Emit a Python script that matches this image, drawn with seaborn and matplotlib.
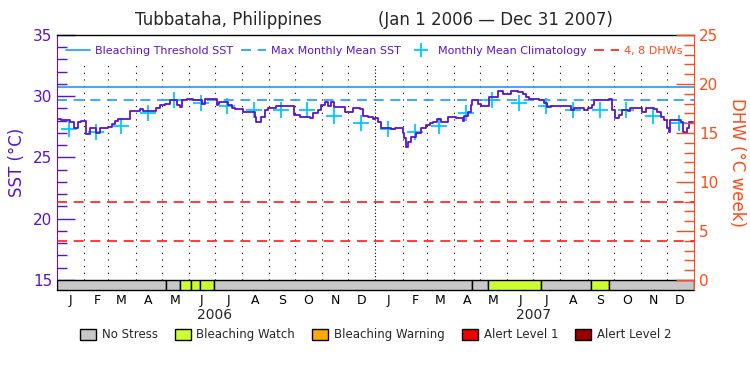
import matplotlib
matplotlib.use("Agg")
import matplotlib.pyplot as plt
import matplotlib.dates as mdates
import matplotlib.transforms as mtransforms
from matplotlib.lines import Line2D
from matplotlib.patches import Patch
import seaborn as sns
import numpy as np
import pandas as pd

# daily SST (step series)
sst_dates = [
    '2006-01-01', '2006-01-06', '2006-01-16', '2006-01-20', '2006-01-25', '2006-01-29',
    '2006-02-03', '2006-02-08', '2006-02-15', '2006-02-19', '2006-03-01', '2006-03-05',
    '2006-03-08', '2006-03-12', '2006-03-26', '2006-04-06', '2006-04-10', '2006-04-25',
    '2006-04-29', '2006-05-05', '2006-05-11', '2006-05-18', '2006-05-22', '2006-05-24',
    '2006-05-30', '2006-06-06', '2006-06-12', '2006-06-16', '2006-06-20', '2006-06-29',
    '2006-07-03', '2006-07-05', '2006-07-06', '2006-07-16', '2006-07-20', '2006-07-24',
    '2006-08-02', '2006-08-16', '2006-08-17', '2006-08-23', '2006-08-27', '2006-08-31',
    '2006-09-09', '2006-09-30', '2006-10-06', '2006-10-18', '2006-10-21', '2006-10-27',
    '2006-10-31', '2006-11-04', '2006-11-08', '2006-11-11', '2006-11-15', '2006-11-27',
    '2006-12-06', '2006-12-14', '2006-12-18', '2006-12-23', '2006-12-29', '2006-12-31',
    '2007-01-04', '2007-01-07', '2007-01-19', '2007-01-23', '2007-02-01', '2007-02-03',
    '2007-02-05', '2007-02-07', '2007-02-11', '2007-02-16', '2007-02-22', '2007-02-28',
    '2007-03-04', '2007-03-08', '2007-03-13', '2007-03-17', '2007-03-25', '2007-04-03',
    '2007-04-07', '2007-04-11', '2007-04-13', '2007-04-17', '2007-04-20', '2007-04-22',
    '2007-04-28', '2007-05-02', '2007-05-11', '2007-05-21', '2007-05-27', '2007-06-05',
    '2007-06-13', '2007-06-19', '2007-06-23', '2007-06-26', '2007-07-07', '2007-07-13',
    '2007-07-17', '2007-07-21', '2007-08-13', '2007-08-17', '2007-08-22', '2007-08-28',
    '2007-09-01', '2007-09-06', '2007-09-08', '2007-09-26', '2007-09-29', '2007-10-03',
    '2007-10-07', '2007-10-11', '2007-10-17', '2007-10-20', '2007-11-03', '2007-11-07',
    '2007-11-16', '2007-11-20', '2007-11-24', '2007-11-28', '2007-12-01', '2007-12-03',
    '2007-12-05', '2007-12-17', '2007-12-19', '2007-12-22', '2007-12-24', '2007-12-26',
    '2007-12-31',
]
sst_values = [
    28.15, 28.06, 27.87, 27.40, 27.87, 27.95,
    26.90, 27.38, 27.00, 27.40, 27.50, 27.70,
    27.98, 28.10, 28.80, 28.96, 28.80, 29.07,
    29.30, 29.36, 29.67, 29.30, 29.10, 29.70,
    29.78, 29.67, 29.70, 29.40, 29.74, 29.76,
    29.30, 29.40, 29.56, 29.30, 29.07, 28.96,
    28.74, 28.33, 27.87, 28.33, 28.88, 29.00,
    29.23, 28.47, 28.33, 28.26, 28.60, 28.88,
    29.30, 29.50, 29.23, 29.50, 29.16, 28.74,
    29.00, 28.96, 28.40, 28.33, 28.14, 28.20,
    27.87, 27.38, 27.30, 27.40, 27.00, 26.56,
    25.88, 26.23, 26.70, 27.00, 27.40, 27.65,
    27.80, 27.87, 28.10, 27.87, 28.33, 28.20,
    28.23, 27.95, 28.38, 28.74, 29.30, 29.70,
    29.36, 29.23, 29.97, 30.43, 30.16, 30.43,
    30.38, 30.20, 29.97, 29.76, 29.70, 29.42,
    29.16, 29.23, 28.88, 29.00, 29.07, 28.88,
    29.07, 29.30, 29.70, 29.76, 28.88, 28.20,
    28.50, 28.88, 28.80, 29.00, 28.74, 29.07,
    28.96, 28.74, 28.33, 28.06, 27.38, 27.10,
    28.06, 27.87, 27.10, 26.97, 27.38, 27.87,
    27.87,
]

# monthly mean climatology (same each year, plotted mid-month)
clim_dates = ['2006-%02d-15' % m for m in range(1, 13)] + ['2007-%02d-15' % m for m in range(1, 13)]
clim_month_values = [27.35, 27.05, 27.55, 28.65, 29.72, 29.45,
                     29.18, 28.87, 28.85, 28.85, 28.42, 27.85]
clim_values = clim_month_values * 2

max_monthly_mean = 29.72
bleaching_threshold = 30.72
dhw_levels = [4, 8]

# bleaching stress status bar
stress_start = ['2006-01-01', '2006-05-06', '2006-05-22', '2006-06-03', '2006-06-14',
                '2006-06-30', '2007-04-22', '2007-05-10', '2007-07-10', '2007-09-05',
                '2007-09-26']
stress_end = ['2006-05-06', '2006-05-22', '2006-06-03', '2006-06-14', '2006-06-30',
              '2007-04-22', '2007-05-10', '2007-07-10', '2007-09-05', '2007-09-26',
              '2008-01-01']
stress_level = [0, 0, 1, 1, 1, 0, 0, 1, 0, 1, 0]
stress_names = ['No Stress', 'Bleaching Watch', 'Bleaching Warning', 'Alert Level 1', 'Alert Level 2']
stress_colors = ['#c8c8c8', '#ccff33', '#ffaa00', '#ee0000', '#990000']

month_letters = ['J', 'F', 'M', 'A', 'M', 'J', 'J', 'A', 'S', 'O', 'N', 'D'] * 2
years = ['2006', '2007']

purple = '#5a14c8'
orange = '#ff4a1a'
thr_col = '#1a9bff'
clim_col = '#00c8ff'
red_dash = '#ff1a1a'

sns.set_style('white')
plt.rcParams['font.family'] = ['DejaVu Sans']

fig = plt.figure(figsize=(7.5, 3.75), dpi=100)
ax = fig.add_axes([0.076, 0.2267, 0.8493, 0.68])
ax2 = ax.twinx()

sst = pd.DataFrame({'date': pd.to_datetime(sst_dates), 'sst': sst_values})
clim = pd.DataFrame({'date': pd.to_datetime(clim_dates), 'sst': clim_values})

# month grid
month_starts = pd.date_range('2006-02-01', '2007-12-01', freq='MS')
for d in month_starts:
    ls = (0, (1, 2)) if d == pd.Timestamp('2007-01-01') else (0, (1, 5))
    ax.vlines(d, 15, 32.6, colors='black', linestyles=ls, linewidth=0.8, zorder=1)

ax.axhline(bleaching_threshold, color=thr_col, lw=1.2, zorder=2)
ax.axhline(max_monthly_mean, color=thr_col, lw=1.2, ls=(0, (6, 4)), zorder=2)

sns.lineplot(data=sst, x='date', y='sst', ax=ax, color=purple, linewidth=1.3,
             drawstyle='steps-post', estimator=None, zorder=4)
sns.scatterplot(data=clim, x='date', y='sst', ax=ax, marker='+', s=120,
                color=clim_col, linewidth=1.3, zorder=3)

# status bar along the bottom
for s, e, lvl in zip(stress_start, stress_end, stress_level):
    x0 = mdates.date2num(pd.Timestamp(s))
    x1 = mdates.date2num(pd.Timestamp(e))
    ax.bar(x0, 0.82, width=x1 - x0, bottom=14.18, align='edge',
           color=stress_colors[lvl], edgecolor='black', linewidth=1, zorder=5)

for lv in dhw_levels:
    ax2.axhline(lv, color=red_dash, lw=1.2, ls=(0, (6, 4)))

ax.set_xlim(pd.Timestamp('2006-01-01'), pd.Timestamp('2008-01-01'))
ax.set_ylim(14.18, 35)
ax2.set_ylim(-1.02, 25)

mid_months = pd.to_datetime(['2006-%02d-16' % m for m in range(1, 13)] +
                            ['2007-%02d-16' % m for m in range(1, 13)])
ax.set_xticks(mid_months)
ax.set_xticklabels(month_letters)
ax.tick_params(axis='x', length=0, pad=3, labelsize=9, colors='black')
ax.set_xlabel('')

ax.set_yticks([15, 20, 25, 30, 35])
ax.set_yticks(np.arange(15, 36), minor=True)
ax.tick_params(axis='y', which='major', direction='in', length=13, width=1,
               color=purple, labelcolor=purple, labelsize=11, left=True)
ax.tick_params(axis='y', which='minor', direction='in', length=7, width=1,
               color=purple, left=True)
ax.set_ylabel('SST (°C)', color=purple, fontsize=12)
ax.yaxis.set_label_coords(-0.048, 0.5)

ax2.set_yticks([0, 5, 10, 15, 20, 25])
ax2.set_yticks(np.arange(0, 26), minor=True)
ax2.tick_params(axis='y', which='major', direction='in', length=13, width=1,
                color=orange, labelcolor=orange, labelsize=11, right=True)
ax2.tick_params(axis='y', which='minor', direction='in', length=7, width=1,
                color=orange, right=True)
ax2.set_ylabel('DHW (°C week)', color=orange, fontsize=12, rotation=270)
ax2.yaxis.set_label_coords(1.082, 0.5)

for sp in ['top', 'bottom']:
    ax.spines[sp].set_color('black')
    ax.spines[sp].set_linewidth(1)
    ax2.spines[sp].set_visible(False)
ax.spines['left'].set_color(purple)
ax.spines['right'].set_visible(False)
ax2.spines['left'].set_visible(False)
ax2.spines['right'].set_color(orange)

trans = mtransforms.blended_transform_factory(ax.transData, ax.transAxes)
for yr in years:
    ax.text(pd.Timestamp(yr + '-07-01'), -0.098, yr, transform=trans,
            ha='center', va='center', fontsize=10)

handles = [
    Line2D([], [], color=thr_col, lw=1.2),
    Line2D([], [], color=thr_col, lw=1.2, ls=(0, (6, 4))),
    Line2D([], [], color=clim_col, marker='+', ls='none', ms=10, mew=1.3),
    Line2D([], [], color=red_dash, lw=1.2, ls=(0, (6, 4))),
]
labels = ['Bleaching Threshold SST', 'Max Monthly Mean SST',
          'Monthly Mean Climatology', '4, 8 DHWs']
leg = ax2.legend(handles, labels, loc='center', bbox_to_anchor=(0.4976, 0.937),
                 ncol=4, frameon=False, fontsize=8, handlelength=2.2,
                 columnspacing=0.7, handletextpad=0.45, borderaxespad=0)
for t, c in zip(leg.get_texts(), [purple, purple, purple, orange]):
    t.set_color(c)

patches = [Patch(facecolor=c, edgecolor='black', lw=1, label=n)
           for n, c in zip(stress_names, stress_colors)]
fig.legend(handles=patches, loc='center', bbox_to_anchor=(0.501, 0.107), ncol=5,
           frameon=False, fontsize=8.5, handlelength=1.35, handleheight=1.0,
           columnspacing=1.45, handletextpad=0.5)

fig.text(135 / 750, 0.947, 'Tubbataha, Philippines', ha='left', va='center', fontsize=12)
fig.text(613 / 750, 0.947, '(Jan 1 2006 \u2014 Dec 31 2007)', ha='right', va='center', fontsize=12)

fig.savefig('out.png', dpi=100)
